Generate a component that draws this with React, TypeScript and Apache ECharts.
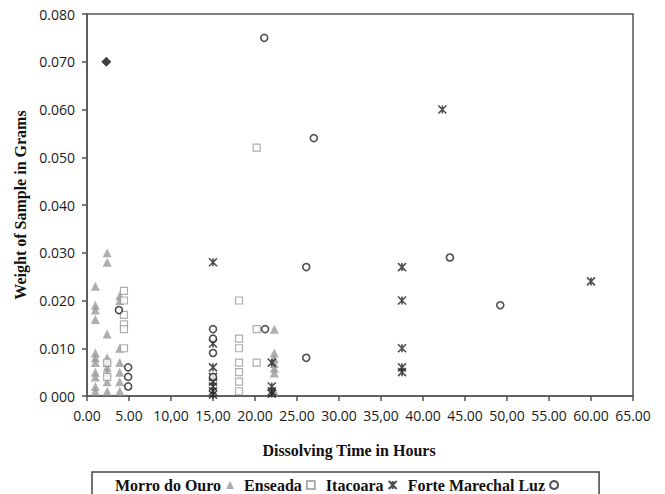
import React, { useEffect, useRef } from "react";
import * as echarts from "echarts";

const xTickLabels = ["0.00", "5.00", "10,00", "15,00", "20.00", "25.00", "30.00", "35,00", "40.00", "45.00", "50,00", "55.00", "60.00", "65.00"];
const yTickLabels = ["0 000", "0.010", "0.020", "0.030", "0.040", "0.050", "0.060", "0.070", "0.080"];

const seriesNames = ["Morro do Ouro", "Enseada", "Itacoara", "Forte Marechal Luz"];

// [hours, grams]
const morroDoOuro: number[][] = [
  [1.0, 0.023], [1.0, 0.019], [1.0, 0.018], [1.0, 0.016], [1.0, 0.009], [1.0, 0.008], [1.0, 0.007], [1.0, 0.005], [1.0, 0.004], [1.0, 0.002], [1.0, 0.001],
  [2.4, 0.030], [2.4, 0.028], [2.4, 0.013], [2.4, 0.008], [2.4, 0.007], [2.4, 0.006], [2.4, 0.005], [2.4, 0.003], [2.4, 0.001],
  [3.9, 0.021], [3.9, 0.020], [3.9, 0.010], [3.9, 0.007], [3.9, 0.005], [3.9, 0.003], [3.9, 0.001],
  [22.3, 0.014], [22.3, 0.009], [22.3, 0.0078], [22.3, 0.0068], [22.3, 0.0058], [22.3, 0.0048], [22.3, 0.001],
];

const enseada: number[][] = [
  [2.4, 0.007], [2.4, 0.004],
  [4.4, 0.022], [4.4, 0.020], [4.4, 0.017], [4.4, 0.015], [4.4, 0.014], [4.4, 0.010],
  [18.1, 0.020], [18.1, 0.012], [18.1, 0.010], [18.1, 0.007], [18.1, 0.005], [18.1, 0.003], [18.1, 0.001],
  [20.2, 0.052], [20.2, 0.014], [20.2, 0.007],
];

const itacoara: number[][] = [
  [15, 0.028], [15, 0.011], [15, 0.006], [15, 0.004], [15, 0.003], [15, 0.002], [15, 0.001], [15, 0.0003],
  [22, 0.007], [22, 0.002], [22, 0.001], [22, 0.0005],
  [37.5, 0.027], [37.5, 0.020], [37.5, 0.010], [37.5, 0.006], [37.5, 0.005],
  [42.3, 0.060],
  [60, 0.024],
];

const forteMarechalLuz: number[][] = [
  [3.8, 0.018], [4.9, 0.006], [4.9, 0.004], [4.9, 0.002],
  [15, 0.014], [15, 0.012], [15, 0.009], [15, 0.004],
  [21.2, 0.014], [21.1, 0.075],
  [27, 0.054], [26.1, 0.027], [26.1, 0.008],
  [43.2, 0.029], [49.2, 0.019],
];

const outlier: number[][] = [[2.3, 0.070]];

const starPath = "path://M0,0L10,10M10,0L0,10M5,0L5,10";

export default function App() {
  const ref = useRef<HTMLDivElement>(null);

  useEffect(() => {
    if (!ref.current) return;
    const chart = echarts.init(ref.current, null, { renderer: "svg" });
    const tickFont = { fontFamily: "Open Sans", fontSize: 14, color: "#1a1a1a" };
    const titleFont = { fontFamily: "Liberation Serif", fontWeight: "bold" as const, fontSize: 16, color: "#111" };
    chart.setOption({
      animation: false,
      backgroundColor: "#fff",
      grid: { left: 87, right: 32, top: 14, bottom: 98, show: true, borderColor: "#555", borderWidth: 1.5, backgroundColor: "transparent" },
      xAxis: {
        type: "value",
        min: 0,
        max: 65,
        interval: 5,
        name: "Dissolving Time in Hours",
        nameLocation: "middle",
        nameGap: 46,
        nameTextStyle: { ...titleFont, padding: [0, 22, 0, 0] },
        axisLine: { lineStyle: { color: "#555", width: 1.5 } },
        axisTick: { show: true, inside: false, length: 5, lineStyle: { color: "#555", width: 1.5 } },
        axisLabel: { ...tickFont, margin: 12, formatter: (v: number) => xTickLabels[Math.round(v / 5)] ?? "" },
        splitLine: { show: false },
      },
      yAxis: {
        type: "value",
        min: 0,
        max: 0.08,
        interval: 0.01,
        name: "Weight of Sample in Grams",
        nameLocation: "middle",
        nameGap: 57,
        nameTextStyle: titleFont,
        axisLine: { show: true, lineStyle: { color: "#555", width: 1.5 } },
        axisTick: { show: true, inside: false, length: 5, lineStyle: { color: "#555", width: 1.5 } },
        axisLabel: { ...tickFont, margin: 12, formatter: (v: number) => yTickLabels[Math.round(v / 0.01)] ?? "" },
        splitLine: { show: false },
      },
      legend: {
        data: seriesNames,
        left: 92,
        top: 472,
        align: "right",
        orient: "horizontal",
        itemWidth: 8,
        itemHeight: 8,
        itemGap: 10,
        borderColor: "#444",
        borderWidth: 1.5,
        backgroundColor: "#fff",
        padding: [5, 40, 10, 23],
        textStyle: titleFont,
      },
      series: [
        {
          name: seriesNames[0],
          type: "scatter",
          data: morroDoOuro,
          symbol: "triangle",
          symbolSize: 9,
          itemStyle: { color: "#9a9a9a" },
        },
        {
          name: seriesNames[1],
          type: "scatter",
          data: enseada,
          symbol: "rect",
          symbolSize: 7,
          itemStyle: { color: "#ffffff", borderColor: "#9a9a9a", borderWidth: 1.2 },
        },
        {
          name: seriesNames[2],
          type: "scatter",
          data: itacoara,
          symbol: starPath,
          symbolSize: 8,
          itemStyle: { color: "#222", borderColor: "#222", borderWidth: 1.6 },
        },
        {
          name: seriesNames[3],
          type: "scatter",
          data: forteMarechalLuz,
          symbol: "circle",
          symbolSize: 7,
          itemStyle: { color: "#ffffff", borderColor: "#222", borderWidth: 1.6 },
        },
        {
          name: "outlier",
          type: "scatter",
          data: outlier,
          symbol: "diamond",
          symbolSize: 10,
          itemStyle: { color: "#111" },
        },
      ],
    });
    return () => chart.dispose();
  }, []);

  return <div ref={ref} style={{ width: 665, height: 494, position: "absolute", left: 0, top: 0 }} />;
}
